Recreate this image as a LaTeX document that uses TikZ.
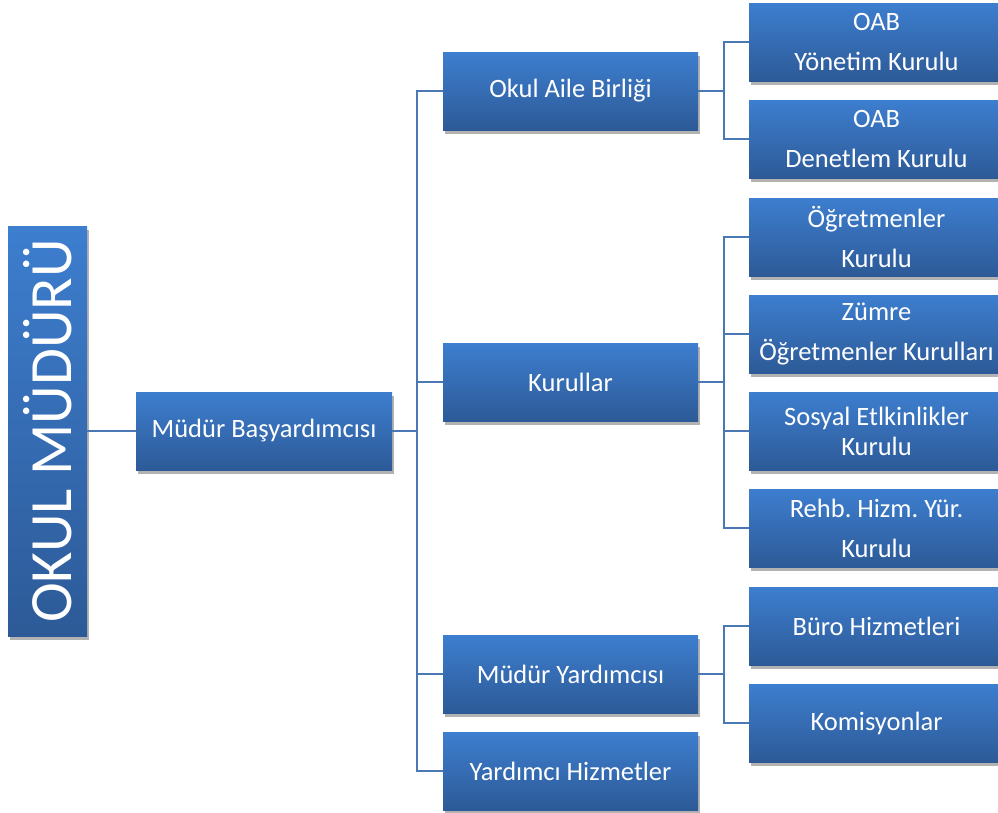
\documentclass[tikz,border=0pt]{standalone}
\usepackage{fontspec}
\setmainfont{Carlito}
\usepackage{tikz}
\usetikzlibrary{shadows}
\usepackage{xcolor}
\definecolor{bxTop}{HTML}{3D7ECF}
\definecolor{bxBot}{HTML}{2D5A97}
\definecolor{lnBlue}{HTML}{4A78B4}
\frenchspacing

\begin{document}
\begin{tikzpicture}[
  x=1pt, y=-1pt,
  % ── kutular: mavi gecisli, beyaz yazi, golgeli ──
  bx/.style={draw=none, top color=bxTop, bottom color=bxBot, text=white,
             font=\fontsize{26.5}{40}\selectfont, align=center,
             minimum width=255pt, minimum height=78pt, inner sep=0pt,
             drop shadow={shadow xshift=2pt, shadow yshift=-4pt,
                          opacity=0.3, fill=black}},
  bxS/.style={bx, font=\fontsize{26.5}{30}\selectfont},
  hd/.style={bx, minimum width=79pt, minimum height=410pt},
  hdt/.style={text=white, font=\fontsize{60}{60}\selectfont, rotate=90,
              inner sep=0pt},
  ln/.style={draw=lnBlue, line width=2pt},
]
\useasboundingbox (0,0) rectangle (998,812);
% ═══ sutunlar: x = 47.5 / 264 / 570.5 / 876.5 ═══
\def\cA{47.5}   \def\cB{264}   \def\cC{570.5}   \def\cD{876.5}

% ── sol: mudur ───────────────────────────────────────────
\node[hd] (om) at (\cA,431) {};
\node[hdt] (omt) at (om.center) {OKUL MÜDÜRÜ};
\node[bx, minimum width=256pt] (mb) at (\cB,431) {Müdür Başyardımcısı};

% ── orta kolon ───────────────────────────────────────────
\node[bx] (oab) at (\cC,91)  {Okul Aile Birliği};
\node[bx] (kur) at (\cC,382) {Kurullar};
\node[bx] (my)  at (\cC,674) {Müdür Yardımcısı};
\node[bx] (yh)  at (\cC,771) {Yardımcı Hizmetler};

% ── sag kolon ────────────────────────────────────────────
\node[bx]  (oyk) at (\cD,42)  {OAB\\Yönetim Kurulu};
\node[bx]  (odk) at (\cD,139) {OAB\\Denetlem Kurulu};
\node[bx]  (ok)  at (\cD,237) {Öğretmenler\\Kurulu};
\node[bx]  (zok) at (\cD,334) {Zümre\\Öğretmenler Kurulları};
\node[bxS] (sek) at (\cD,431) {Sosyal Etlkinlikler\\Kurulu};
\node[bx]  (rhk) at (\cD,528) {Rehb. Hizm. Yür.\\Kurulu};
\node[bx]  (bh)  at (\cD,626) {Büro Hizmetleri};
\node[bx]  (kom) at (\cD,723) {Komisyonlar};

% ── baglantilar ──────────────────────────────────────────
\draw[ln] (om.east) -- (mb.west);
\draw[ln] (mb.east) -- ++(25,0) coordinate (tr1);
\foreach \n in {oab,kur,my,yh} \draw[ln] (tr1) |- (\n.west);

\draw[ln] (oab.east) -- ++(26,0) coordinate (tr2);
\foreach \n in {oyk,odk} \draw[ln] (tr2) |- (\n.west);

\draw[ln] (kur.east) -- ++(26,0) coordinate (tr3);
\foreach \n in {ok,zok,sek,rhk} \draw[ln] (tr3) |- (\n.west);

\draw[ln] (my.east) -- ++(26,0) coordinate (tr4);
\foreach \n in {bh,kom} \draw[ln] (tr4) |- (\n.west);
\end{tikzpicture}
\end{document}
